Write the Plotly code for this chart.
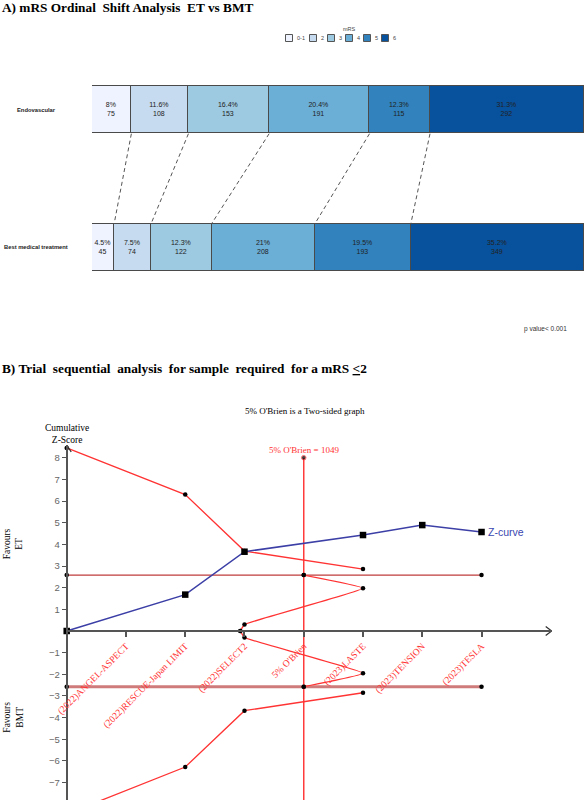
import plotly.graph_objects as go

W, H = 584, 800


def px(x):
    return x / W


def py(y):
    return 1 - y / H


# ---------------- Panel A data ----------------
mrs_levels = ["0-1", "2", "3", "4", "5", "6"]
groups = ["Endovascular", "Best medical treatment"]
pct_et = [8, 11.6, 16.4, 20.4, 12.3, 31.3]
n_et = [75, 108, 153, 191, 115, 292]
pct_bmt = [4.5, 7.5, 12.3, 21, 19.5, 35.2]
n_bmt = [45, 74, 122, 208, 193, 349]
mrs_colors = ["#eff3ff", "#c6dbef", "#9ecae1", "#6baed6", "#3182bd", "#08519c"]
p_value_text = "p value< 0.001"

# ---------------- Panel B data ----------------
trial_labels = ["(2022)ANGEL-ASPECT", "(2022)RESCUE-Japan LIMIT", "(2022)SELECT2",
                "5% O'Brien", "(2023)LASTE", "(2023)TENSION", "(2023)TESLA"]
trial_pos = [1, 2, 3, 4, 5, 6, 7]
z_x = [0, 2, 3, 5, 6, 7]
z_y = [0, 1.68, 3.66, 4.43, 4.89, 4.57]
bound_x = [0, 2, 3, 5]
upper_bound = [8.45, 6.30, 3.69, 2.86]
lower_bound = [-8.45, -6.28, -3.68, -2.85]
fut_x = [2.93, 3, 5, 4]
fut_upper = [0, 0.30, 1.97, 2.58]
fut_lower = [0, -0.30, -1.95, -2.57]
conv_x = [0, 4, 7]
conv_upper = 2.58
conv_lower = -2.57
ris_pos = 4
ris_top = 8.0
ris_label = "5% O'Brien = 1049"
ytick_vals = [-7, -6, -5, -4, -3, -2, -1, 1, 2, 3, 4, 5, 6, 7, 8]

# axis ranges (panel B)
XR = [0, 8.184]
YR = [-7.802, 8.587]

fig = go.Figure()

# ---------------- Panel A: stacked bars ----------------
BW = 0.345
for i, lev in enumerate(mrs_levels):
    fig.add_trace(go.Bar(
        x=[pct_et[i], pct_bmt[i]], y=[1, 0], orientation="h", width=BW,
        name=lev, marker=dict(color=mrs_colors[i], line=dict(color="#4a4a4a", width=1.2)),
        text=[f"{pct_et[i]:g}%<br>{n_et[i]}", f"{pct_bmt[i]:g}%<br>{n_bmt[i]}"],
        textposition="inside", insidetextanchor="middle", textangle=0,
        textfont=dict(family="Liberation Sans", size=7, color="#222"),
        xaxis="x", yaxis="y", showlegend=False, hoverinfo="skip"))

# dashed connectors between cumulative boundaries
cum_et, cum_bmt = [], []
s1 = s2 = 0
for a, b in zip(pct_et, pct_bmt):
    s1 += a
    s2 += b
    cum_et.append(s1)
    cum_bmt.append(s2)
for i in range(len(mrs_levels) - 1):
    fig.add_trace(go.Scatter(
        x=[cum_et[i], cum_bmt[i]], y=[1 - BW / 2, BW / 2], mode="lines",
        line=dict(color="#555", width=1, dash="4px,3px"),
        xaxis="x", yaxis="y", showlegend=False, hoverinfo="skip"))

# ---------------- Panel B: TSA ----------------
common = dict(xaxis="x2", yaxis="y2", showlegend=False, hoverinfo="skip", cliponaxis=False)
mk = dict(color="black", size=4.5, symbol="circle")

# conventional boundaries
fig.add_trace(go.Scatter(x=conv_x, y=[conv_upper] * len(conv_x), mode="lines+markers",
                         line=dict(color="#bf3b3b", width=1.3), marker=mk, **common))
fig.add_trace(go.Scatter(x=conv_x, y=[conv_lower] * len(conv_x), mode="lines+markers",
                         line=dict(color="#cf7b7b", width=3), marker=mk, **common))
# required information size vertical
fig.add_trace(go.Scatter(x=[ris_pos, ris_pos], y=[ris_top, YR[0] - 1], mode="lines+markers",
                         line=dict(color="#ff3b3b", width=1.5),
                         marker=dict(color="black", size=[4.5, 0]), **common))
# O'Brien-Fleming boundaries
fig.add_trace(go.Scatter(x=bound_x, y=upper_bound, mode="lines+markers",
                         line=dict(color="#ff3333", width=1.3), marker=mk, **common))
fig.add_trace(go.Scatter(x=bound_x, y=lower_bound, mode="lines+markers",
                         line=dict(color="#ff3333", width=1.3), marker=mk, **common))
# futility (inner wedge)
fig.add_trace(go.Scatter(x=fut_x, y=fut_upper, mode="lines+markers",
                         line=dict(color="#ff3333", width=1.3, shape="spline", smoothing=0.3),
                         marker=mk, **common))
fig.add_trace(go.Scatter(x=fut_x, y=fut_lower, mode="lines+markers",
                         line=dict(color="#ff3333", width=1.3, shape="spline", smoothing=0.3),
                         marker=mk, **common))
# Z-curve
fig.add_trace(go.Scatter(x=z_x, y=z_y, mode="lines+markers",
                         line=dict(color="#3c3fa6", width=1.5),
                         marker=dict(color="black", size=6.5, symbol="square"), **common))

# axis arrow heads
ax_col = "#555"
dx_arrow = 6 / 59.26
dy_arrow = 4.5 / 21.66
fig.add_trace(go.Scatter(x=[XR[1] - dx_arrow, XR[1], XR[1] - dx_arrow],
                         y=[dy_arrow, 0, -dy_arrow], mode="lines",
                         line=dict(color="#333", width=1.3), **common))
fig.add_trace(go.Scatter(x=[-4.5 / 59.26, 0, 4.5 / 59.26],
                         y=[YR[1] - 7 / 21.66, YR[1], YR[1] - 7 / 21.66], mode="lines",
                         line=dict(color="#333", width=1.3), **common))

# ---------------- annotations ----------------
ann = []
serif = "Liberation Serif"
sans = "Liberation Sans"


def note(text, x, y, xref="paper", yref="paper", xa="center", ya="middle", **kw):
    d = dict(text=text, x=x, y=y, xref=xref, yref=yref, xanchor=xa, yanchor=ya,
             showarrow=False)
    d.update(kw)
    ann.append(d)


note("<b>A) mRS Ordinal\u00a0 Shift Analysis\u00a0 ET vs BMT</b>", 0, py(7), xa="left",
     font=dict(family=serif, size=13.3, color="black"))
note("<b>B) Trial\u00a0 sequential\u00a0 analysis\u00a0 for sample\u00a0 required\u00a0 for a mRS <u>&lt;</u>2</b>",
     0, py(369), xa="left", font=dict(family=serif, size=13.3, color="black"))

# legend (manual, compact)
note("mRS", px(349), py(29), font=dict(family=sans, size=5.5, color="#444"))
shapes = []
lx = 285.5
for lev, col in zip(mrs_levels, mrs_colors):
    shapes.append(dict(type="rect", xref="paper", yref="paper", x0=px(lx), x1=px(lx + 7),
                       y0=py(41.5), y1=py(34.5), fillcolor=col, line=dict(color="#555", width=1)))
    note(lev, px(lx + 9), py(38), xa="left", font=dict(family=sans, size=5.5, color="#444"))
    lx += 15 + 3 * len(lev)

# group labels
for g, yv in zip(groups, [1, 0]):
    note(f"<b>{g}</b>", px(36), yv, yref="y", font=dict(family=sans, size=5.8, color="#222"))
note(p_value_text, px(569), py(329), xa="right", font=dict(family=sans, size=6.5, color="#333"))

# panel B texts
note("5% O'Brien is a Two-sided graph", px(305), py(411),
     font=dict(family=serif, size=9, color="black"))
note(ris_label, ris_pos, ris_top, xref="x2", yref="y2", ya="bottom", yshift=1,
     font=dict(family=serif, size=9, color="#ff3333"))
note("Cumulative<br>Z-Score", 0, YR[1], xref="x2", yref="y2", ya="bottom", yshift=-2,
     font=dict(family=serif, size=9.5, color="black"))
note("Z-curve", z_x[-1], z_y[-1], xref="x2", yref="y2", xa="left", xshift=4,
     font=dict(family=sans, size=10.5, color="#3a46b0"))
note("Favours<br>ET", px(13), 4, yref="y2", textangle=-90,
     font=dict(family=serif, size=9.5, color="black"))
note("Favours<br>BMT", px(13), -4, yref="y2", textangle=-90,
     font=dict(family=serif, size=9.5, color="black"))

fig.update_layout(
    template="none",
    width=W, height=H, autosize=False,
    margin=dict(l=0, r=0, t=0, b=0, pad=0, autoexpand=False),
    paper_bgcolor="white", plot_bgcolor="white",
    barmode="stack", bargap=0,
    uniformtext=dict(minsize=7, mode="show"),
    xaxis=dict(domain=[px(92), 1], range=[0, 100], visible=False, fixedrange=True,
               automargin=False),
    yaxis=dict(domain=[py(316.25), py(41.25)], range=[-0.5, 1.5], visible=False,
               fixedrange=True, automargin=False),
    xaxis2=dict(domain=[px(66.7), px(551.7)], range=XR, anchor="free", position=py(631),
                showline=True, linecolor=ax_col, linewidth=2, showgrid=False, zeroline=False,
                ticks="outside", ticklen=5, tickwidth=1.5, tickcolor=ax_col,
                tickvals=trial_pos, ticktext=trial_labels, tickangle=-45, automargin=False,
                tickfont=dict(family=serif, size=9.5, color="#ff3333")),
    yaxis2=dict(domain=[0, py(445)], range=YR, anchor="free", position=px(66.7),
                showline=True, linecolor=ax_col, linewidth=2, showgrid=False, zeroline=False,
                ticks="outside", ticklen=4, tickwidth=1.2, tickcolor=ax_col, automargin=False,
                tickvals=ytick_vals, tickfont=dict(family=sans, size=9.5, color="#666")),
    annotations=ann, shapes=shapes,
)

fig.write_html("out.html")
